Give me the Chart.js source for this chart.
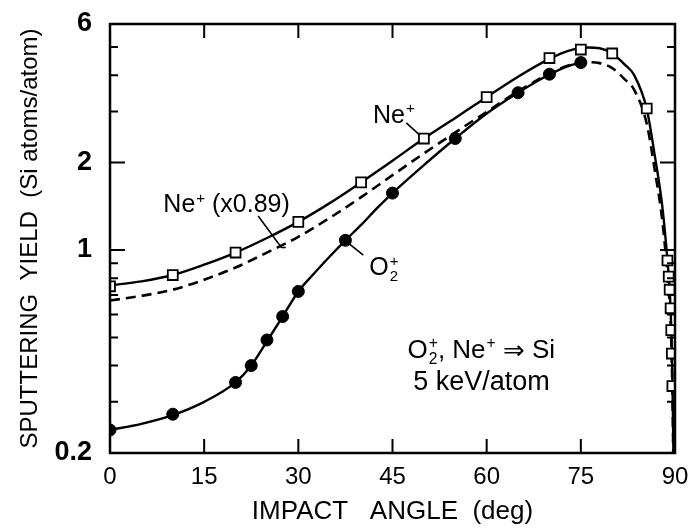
<!DOCTYPE html>
<html>
<head>
<meta charset="utf-8">
<script src="https://cdn.jsdelivr.net/npm/chart.js@4.4.1/dist/chart.umd.min.js"></script>
<style>
  html, body { margin: 0; padding: 0; background: #fff; }
</style>
</head>
<body>
<canvas id="yieldChart" width="694" height="530"></canvas>
<script>
const neAngles = [0, 10, 20, 30, 40, 50, 60, 70, 75, 80, 85.5, 88.8, 89.0, 89.15, 89.3, 89.4, 89.5, 89.58];
const neYield  = [0.75, 0.82, 0.98, 1.25, 1.71, 2.42, 3.36, 4.58, 4.9, 4.75, 3.07, 0.92, 0.81, 0.73, 0.63, 0.53, 0.44, 0.34];

const o2Angles = [0, 10, 20, 22.5, 25, 27.5, 30, 37.5, 45, 55, 65, 70, 75];
const o2Yield  = [0.24, 0.272, 0.35, 0.40, 0.49, 0.59, 0.72, 1.08, 1.57, 2.42, 3.48, 4.03, 4.42];

// fitted curves
const neFitAngles = [0, 5, 10, 15, 20, 25, 30, 35, 40, 45, 50, 55, 60, 65, 70, 73, 76, 78, 80, 82, 83.5, 85.5, 86.8, 88, 88.8, 89.2, 89.45, 89.6, 89.75];
const neFitYield  = [0.755, 0.78, 0.82, 0.89, 0.98, 1.10, 1.25, 1.45, 1.71, 2.03, 2.42, 2.85, 3.36, 3.95, 4.55, 4.85, 4.98, 4.95, 4.75, 4.35, 4.0, 3.06, 2.1, 1.4, 0.92, 0.70, 0.5, 0.35, 0.2];

const neScaledFitAngles = [0, 5, 10, 15, 20, 25, 30, 35, 40, 45, 50, 55, 60, 65, 70, 73, 76, 78, 80, 82, 83.5, 85.5, 86.8, 88, 88.8, 89.2, 89.45, 89.6, 89.72];
const neScaledFitYield  = [0.67, 0.695, 0.73, 0.79, 0.87, 0.98, 1.11, 1.29, 1.52, 1.81, 2.15, 2.54, 2.99, 3.52, 4.05, 4.32, 4.43, 4.4, 4.23, 3.87, 3.56, 2.72, 1.87, 1.25, 0.82, 0.62, 0.45, 0.31, 0.2];

const o2FitAngles = [0, 5, 10, 15, 20, 22.5, 25, 27.5, 30, 32.5, 35, 37.5, 40, 42.5, 45, 50, 55, 60, 65, 70, 73, 75];
const o2FitYield  = [0.24, 0.252, 0.27, 0.30, 0.35, 0.40, 0.485, 0.59, 0.72, 0.83, 0.95, 1.08, 1.22, 1.39, 1.57, 1.96, 2.42, 2.95, 3.48, 4.02, 4.3, 4.42];

const xTickStep = 15;
const yTickValues = [0.2, 0.3, 0.4, 0.5, 0.6, 0.7, 0.8, 0.9, 1, 2, 3, 4, 5, 6];
const yLabeledTicks = [0.2, 1, 2, 6];
const yMajorTicks = [1, 2];

const FONT = "'Liberation Sans', Arial, 'DejaVu Sans', sans-serif";

function pts(xs, ys) {
  return xs.map((x, i) => ({ x: x, y: ys[i] }));
}

// text labels inside the plot, placed in data coordinates
const notes = [
  { at: [41.9, 2.74], size: 25, parts: [{ t: 'Ne' }, { sup: '+' }] },
  { at: [8.5, 1.35], size: 25, parts: [{ t: 'Ne' }, { sup: '+' }, { t: ' (x0.89)' }] },
  { at: [41.3, 0.82], size: 25, parts: [{ t: 'O' }, { sub: '2', sup: '+' }] },
  { at: [47.4, 0.425], size: 26, parts: [{ t: 'O' }, { sub: '2', sup: '+' }, { t: ', Ne' }, { sup: '+' }, { t: ' ' }, { arrow: '\u21D2' }, { t: ' Si' }] },
  { at: [48.3, 0.33], size: 27, parts: [{ t: '5 keV/atom' }] }
];
const leaders = [
  [[47.2, 2.74], [49.3, 2.49]],
  [[23.6, 1.31], [27.3, 1.02], [28.0, 1.02]],
  [[37.96, 1.057], [40.35, 0.961]]
];

function drawRich(ctx, parts, x, y, size) {
  let cx = x;
  parts.forEach(p => {
    if (p.t !== undefined) {
      ctx.font = size + 'px ' + FONT;
      ctx.fillText(p.t, cx, y);
      cx += ctx.measureText(p.t).width;
    } else if (p.arrow) {
      ctx.font = size + "px 'DejaVu Sans', sans-serif";
      ctx.fillText(p.arrow, cx, y + 1);
      cx += ctx.measureText(p.arrow).width;
    } else {
      const s = size * 0.6;
      ctx.font = s + 'px ' + FONT;
      let w = 0;
      if (p.sup) {
        ctx.fillText(p.sup, cx + 1, y - size * 0.38);
        w = Math.max(w, ctx.measureText(p.sup).width + 1);
      }
      if (p.sub) {
        ctx.fillText(p.sub, cx + 1, y + size * 0.22);
        w = Math.max(w, ctx.measureText(p.sub).width + 1);
      }
      cx += w;
    }
  });
}

const framePlugin = {
  id: 'frameTicks',
  afterDatasetsDraw(chart) {
    const ctx = chart.ctx;
    const a = chart.chartArea;
    const xs = chart.scales.x;
    const ys = chart.scales.y;
    ctx.save();
    ctx.strokeStyle = '#000';
    ctx.fillStyle = '#000';

    // inward tick marks on all four sides
    ctx.lineWidth = 2;
    ctx.beginPath();
    for (let v = xTickStep; v < 90; v += xTickStep) {
      const px = xs.getPixelForValue(v);
      ctx.moveTo(px, a.bottom); ctx.lineTo(px, a.bottom - 14);
      ctx.moveTo(px, a.top); ctx.lineTo(px, a.top + 14);
    }
    yTickValues.forEach(v => {
      if (v === 0.2 || v === 6) return;
      const py = ys.getPixelForValue(v);
      const len = yMajorTicks.includes(v) ? 15 : 8;
      ctx.moveTo(a.left, py); ctx.lineTo(a.left + len, py);
      ctx.moveTo(a.right, py); ctx.lineTo(a.right - len, py);
    });
    ctx.stroke();

    // frame
    ctx.lineWidth = 2.5;
    ctx.strokeRect(a.left, a.top, a.right - a.left, a.bottom - a.top);

    // leader lines
    ctx.lineWidth = 1.6;
    leaders.forEach(l => {
      ctx.beginPath();
      l.forEach((p, i) => {
        const px = xs.getPixelForValue(p[0]);
        const py = ys.getPixelForValue(p[1]);
        if (i === 0) ctx.moveTo(px, py); else ctx.lineTo(px, py);
      });
      ctx.stroke();
    });

    // labels
    ctx.textBaseline = 'alphabetic';
    ctx.textAlign = 'left';
    notes.forEach(n => {
      drawRich(ctx, n.parts, xs.getPixelForValue(n.at[0]), ys.getPixelForValue(n.at[1]), n.size);
    });
    ctx.restore();
  }
};

const ctx = document.getElementById('yieldChart').getContext('2d');

new Chart(ctx, {
  type: 'line',
  data: {
    datasets: [
      {
        label: 'Ne+ data',
        data: pts(neAngles, neYield),
        showLine: false,
        pointStyle: 'rect',
        pointRadius: 7,
        pointBorderWidth: 1.8,
        pointBackgroundColor: '#fff',
        pointBorderColor: '#000',
        clip: 0,
        order: 0
      },
      {
        label: 'O2+ data',
        data: pts(o2Angles, o2Yield),
        showLine: false,
        pointStyle: 'circle',
        pointRadius: 6,
        pointBorderWidth: 1,
        pointBackgroundColor: '#000',
        pointBorderColor: '#000',
        clip: 0,
        order: 0
      },
      {
        label: 'Ne+ fit',
        data: pts(neFitAngles, neFitYield),
        borderColor: '#000',
        borderWidth: 2.4,
        pointRadius: 0,
        cubicInterpolationMode: 'monotone',
        clip: 0,
        order: 1
      },
      {
        label: 'Ne+ (x0.89)',
        data: pts(neScaledFitAngles, neScaledFitYield),
        borderColor: '#000',
        borderWidth: 2.6,
        borderDash: [10, 6],
        pointRadius: 0,
        cubicInterpolationMode: 'monotone',
        clip: 0,
        order: 1
      },
      {
        label: 'O2+ fit',
        data: pts(o2FitAngles, o2FitYield),
        borderColor: '#000',
        borderWidth: 2.4,
        pointRadius: 0,
        cubicInterpolationMode: 'monotone',
        clip: 0,
        order: 1
      }
    ]
  },
  options: {
    responsive: false,
    animation: false,
    layout: { padding: { top: 24, right: 19, left: 0, bottom: 0 } },
    plugins: {
      legend: { display: false },
      tooltip: { enabled: false }
    },
    scales: {
      x: {
        type: 'linear',
        min: 0,
        max: 90,
        ticks: {
          stepSize: xTickStep,
          color: '#000',
          padding: 10,
          maxRotation: 0,
          font: { family: FONT, size: 24 }
        },
        grid: { display: false, drawTicks: false },
        border: { display: false },
        title: {
          display: true,
          text: 'IMPACT   ANGLE  (deg)',
          color: '#000',
          font: { family: FONT, size: 26 },
          padding: { top: 0, bottom: 3 }
        },
        afterFit: s => {
          s.height = 77;
          s.paddingLeft = 0;
          s.paddingRight = 0;
        }
      },
      y: {
        type: 'logarithmic',
        min: 0.2,
        max: 6,
        afterBuildTicks: s => { s.ticks = yTickValues.map(v => ({ value: v })); },
        ticks: {
          autoSkip: false,
          color: '#000',
          padding: 18,
          font: { family: FONT, size: 27, weight: 'bold' },
          callback: v => yLabeledTicks.includes(v) ? String(v) : ''
        },
        grid: { display: false, drawTicks: false },
        border: { display: false },
        title: {
          display: true,
          text: 'SPUTTERING  YIELD  (Si atoms/atom)',
          color: '#000',
          font: { family: FONT, size: 24 },
          padding: { top: 16, bottom: 0 }
        },
        afterFit: s => {
          s.width = 110;
          s.paddingTop = 0;
          s.paddingBottom = 0;
        }
      }
    }
  },
  plugins: [framePlugin]
});
</script>
</body>
</html>
